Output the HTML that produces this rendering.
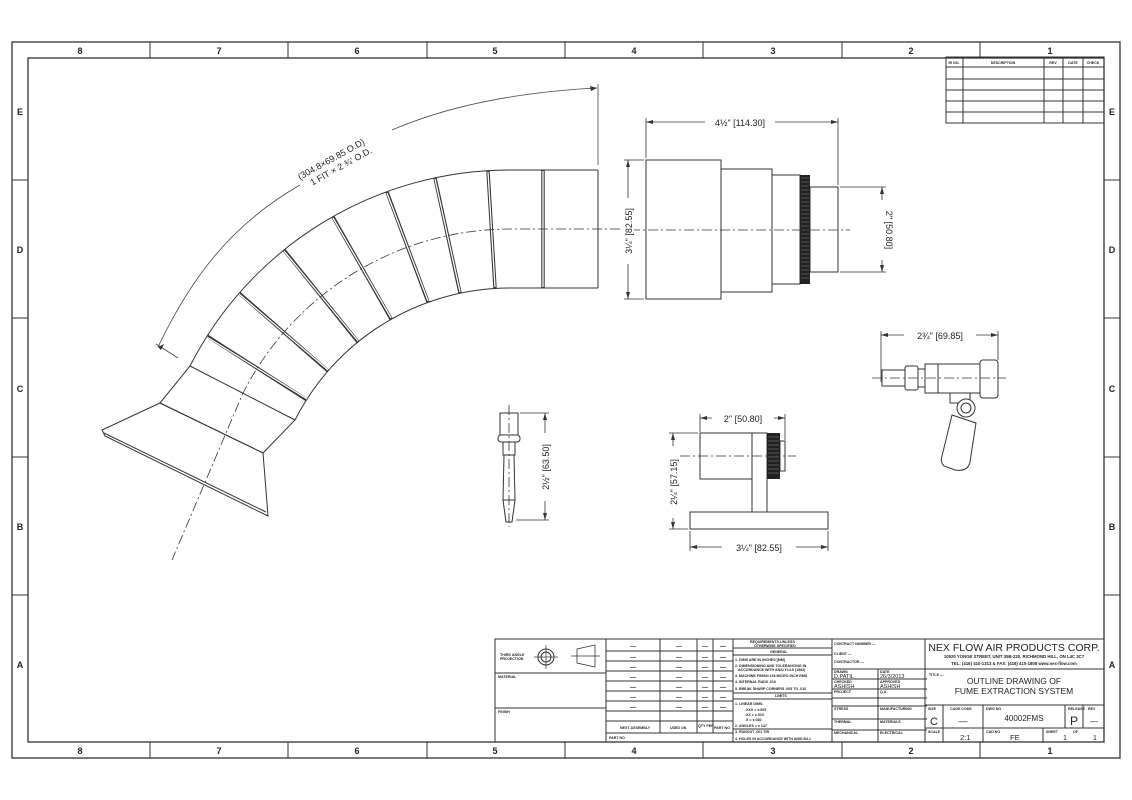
<!DOCTYPE html>
<html><head><meta charset="utf-8"><style>
html,body{margin:0;padding:0;background:#fff;}
svg{display:block;}
text{font-family:"Liberation Sans",sans-serif;fill:#222;}
.t{font-size:3.6px;font-weight:bold;}
.d{font-size:9px;}
</style></head><body>
<svg width="1132" height="800" viewBox="0 0 1132 800" xmlns="http://www.w3.org/2000/svg">
<rect width="1132" height="800" fill="#fff"/>
<g fill="none" stroke="#333" stroke-width="1.3">
<rect x="12" y="42" width="1108" height="716"/>
<rect x="28" y="58" width="1076" height="684"/>
</g>
<g stroke="#333" stroke-width="1">
<path d="M150 42V58M288 42V58M427 42V58M565 42V58M703 42V58M842 42V58M980 42V58"/>
<path d="M150 742V758M288 742V758M427 742V758M565 742V758M703 742V758M842 742V758M980 742V758"/>
<path d="M12 180H28M12 318H28M12 457H28M12 595H28M1104 180H1120M1104 318H1120M1104 457H1120M1104 595H1120"/>
</g>
<g font-size="9" font-weight="bold" text-anchor="middle">
<text x="80" y="54">8</text><text x="219" y="54">7</text><text x="357" y="54">6</text><text x="495" y="54">5</text><text x="634" y="54">4</text><text x="773" y="54">3</text><text x="911" y="54">2</text><text x="1050" y="54">1</text>
<text x="80" y="754">8</text><text x="219" y="754">7</text><text x="357" y="754">6</text><text x="495" y="754">5</text><text x="634" y="754">4</text><text x="773" y="754">3</text><text x="911" y="754">2</text><text x="1050" y="754">1</text>
<text x="20" y="115">E</text><text x="20" y="253">D</text><text x="20" y="392">C</text><text x="20" y="530">B</text><text x="20" y="668">A</text>
<text x="1112" y="115">E</text><text x="1112" y="253">D</text><text x="1112" y="392">C</text><text x="1112" y="530">B</text><text x="1112" y="668">A</text>
</g>

<!-- Hose -->
<g fill="none" stroke="#333" stroke-width="1">
<path d="M598 170 L510 170 A359 359 0 0 0 190 366 L160 403"/>
<path d="M598 288 L510 288 A241 241 0 0 0 295 420 L263 453"/>
<path d="M598 170V288"/>
<path d="M160 403 L102 430 L105 436 L268 516 L263 453 Z"/>
<path d="M104 433 L266 512"/>
<path d="M190 366 L295 420"/>
<path d="M160 403 L263 453"/>
</g>
<g stroke="#333" stroke-width="3.4" fill="none">
<path d="M543 170V288M488 171L495 288M435 178L460 293M387 192L428 302M333 217L391 319M284 250L358 342M239 293L328 371M207 336L307 400"/>
</g>
<g stroke="#fff" stroke-width="1.3" fill="none">
<path d="M543 171V287M488 172L495 287M435 179L460 292M387 193L428 301M333 218L391 318M284 251L358 341M239 294L328 370M207 337L307 399"/>
</g>
<path d="M620 229 L510 229 A300 300 0 0 0 243 393 L172 560" fill="none" stroke="#333" stroke-width="0.8" stroke-dasharray="10 3 2 3"/>
<!-- dimension arc -->
<g fill="none" stroke="#444" stroke-width="0.8">
<path d="M158 347 C190 280 230 225 300 185"/>
<path d="M392 130 C450 105 520 92 597 88"/>
<path d="M598 84V165M156 344L178 358"/>
</g>
<path d="M158 347l6-3-3 6z M597 88l-7-2 1 5z" fill="#333"/>
<g transform="translate(300,180) rotate(-29)" font-size="9" fill="#333">
<text x="0" y="0">(304.8×69.85 O.D)</text>
<text x="8" y="11">1 FIT × 2 ¾' O.D.</text>
</g>

<!-- Top right part -->
<g fill="none" stroke="#333" stroke-width="1">
<rect x="646" y="160" width="75" height="139"/>
<rect x="721" y="169" width="51" height="123"/>
<rect x="772" y="175" width="28" height="109"/>
<rect x="810" y="187" width="28" height="85"/>
<path d="M646 122H838M646 118V158M838 118V185M628 160V299M624 160H644M624 299H644M840 187H886M840 272H886M882 187V272" stroke-width="0.8"/>
</g>
<rect x="800" y="175" width="10" height="109" fill="#222"/>
<path d="M801 178H809M801 182H809M801 186H809M801 190H809M801 194H809M801 198H809M801 202H809M801 206H809M801 210H809M801 214H809M801 218H809M801 222H809M801 226H809M801 230H809M801 234H809M801 238H809M801 242H809M801 246H809M801 250H809M801 254H809M801 258H809M801 262H809M801 266H809M801 270H809M801 274H809M801 278H809" stroke="#888" stroke-width="0.6"/>
<path d="M630 230H850" stroke="#333" stroke-width="0.8" stroke-dasharray="10 3 2 3"/>
<rect x="705" y="116" width="70" height="12" fill="#fff"/>
<text x="740" y="126" class="d" text-anchor="middle">4½" [114.30]</text>
<rect x="622" y="198" width="12" height="66" fill="#fff"/>
<text class="d" text-anchor="middle" transform="translate(632,231) rotate(-90)">3¼" [82.55]</text>
<rect x="876" y="200" width="12" height="60" fill="#fff"/>
<text class="d" text-anchor="middle" transform="translate(886,230) rotate(90)">2" [50.80]</text>
<path d="M646 122l7-2v4zM838 122l-7-2v4zM628 160l-2 7h4zM628 299l-2-7h4zM882 187l-2 7h4zM882 272l-2-7h4z" fill="#333"/>

<!-- Valve -->
<g fill="#fff" stroke="#333" stroke-width="1">
<path d="M881 335H998M881 331V382M998 331V360" fill="none" stroke-width="0.8"/>
<rect x="882" y="370" width="23" height="16"/>
<rect x="905" y="366" width="13" height="24" rx="2"/>
<rect x="918" y="369" width="7" height="18"/>
<rect x="925" y="364" width="55" height="29"/>
<path d="M938 364V393" fill="none"/>
<rect x="980" y="360" width="18" height="38" rx="3"/>
<rect x="950" y="393" width="20" height="10"/>
<path d="M952 415 L976 423 L970 462 Q968 472 955 470 L944 466 Q940 462 942 456 Z"/>
<circle cx="966" cy="408" r="9"/>
<circle cx="966" cy="408" r="5"/>
</g>
<path d="M872 378H1006" stroke="#333" stroke-width="0.8" stroke-dasharray="10 3 2 3"/>
<rect x="904" y="329" width="72" height="12" fill="#fff"/>
<text x="940" y="339" class="d" text-anchor="middle">2¾" [69.85]</text>
<path d="M881 335l7-2v4zM998 335l-7-2v4z" fill="#333"/>

<!-- side view part -->
<g fill="#fff" stroke="#333" stroke-width="1">
<rect x="700" y="433" width="52" height="46"/>
<rect x="752" y="433" width="15" height="79"/>
<rect x="780" y="441" width="5" height="30"/>
<rect x="690" y="512" width="138" height="17"/>
</g>
<rect x="767" y="433" width="13" height="46" fill="#222"/>
<path d="M768 437H779M768 441H779M768 445H779M768 449H779M768 453H779M768 457H779M768 461H779M768 465H779M768 469H779M768 473H779" stroke="#888" stroke-width="0.6"/>
<path d="M680 456H796" stroke="#333" stroke-width="0.8" stroke-dasharray="10 3 2 3"/>
<g fill="none" stroke="#333" stroke-width="0.8">
<path d="M700 418H785M700 414V432M785 414V440M690 547H828M690 531V551M828 531V551M673 433V529M669 433H698M669 529H688"/>
</g>
<rect x="712" y="412" width="62" height="12" fill="#fff"/>
<text x="743" y="422" class="d" text-anchor="middle">2" [50.80]</text>
<rect x="722" y="541" width="74" height="12" fill="#fff"/>
<text x="759" y="551" class="d" text-anchor="middle">3¼" [82.55]</text>
<rect x="667" y="446" width="12" height="72" fill="#fff"/>
<text class="d" text-anchor="middle" transform="translate(677,482) rotate(-90)">2¼" [57.15]</text>
<path d="M700 418l7-2v4zM785 418l-7-2v4zM690 547l7-2v4zM828 547l-7-2v4zM673 433l-2 7h4zM673 529l-2-7h4z" fill="#333"/>

<!-- small nozzle -->
<g fill="#fff" stroke="#333" stroke-width="1">
<rect x="500" y="413" width="18" height="22"/>
<rect x="498" y="435" width="22" height="7" rx="3"/>
<rect x="503" y="442" width="12" height="13"/>
<path d="M504 455H514L515 500L512 522H506L503 500Z"/>
<path d="M503 500H515" fill="none"/>
</g>
<path d="M509 405V527" stroke="#333" stroke-width="0.8" stroke-dasharray="10 3 2 3"/>
<g fill="none" stroke="#333" stroke-width="0.8"><path d="M545 413V520M520 413H549M516 520H549"/></g>
<rect x="539" y="433" width="12" height="68" fill="#fff"/>
<text class="d" text-anchor="middle" transform="translate(549,467) rotate(-90)">2½" [63.50]</text>
<path d="M545 413l-2 7h4zM545 520l-2-7h4z" fill="#333"/>

<!-- revision table -->
<g fill="none" stroke="#333" stroke-width="1">
<rect x="946" y="57" width="158" height="66"/>
<path d="M946 67H1104M946 79H1104M946 90H1104M946 101H1104M946 112H1104M963 57V123M1044 57V123M1063 57V123M1083 57V123"/>
</g>
<g class="t" text-anchor="middle"><text x="954" y="64" class="t">IR NO.</text><text x="1003" y="64" class="t">DESCRIPTION</text><text x="1053" y="64" class="t">REV</text><text x="1073" y="64" class="t">DATE</text><text x="1093" y="64" class="t">CHECK</text></g>

<!-- title block -->
<g fill="none" stroke="#333" stroke-width="1">
<rect x="495" y="639" width="609" height="103"/>
<path d="M495 673H606M495 708H606M606 639V742M660 639V733M697 639V733M713 639V733M733 639V742"/>
<path d="M606 651H733M606 661H733M606 671H733M606 681H733M606 691H733M606 701H733M606 711H733M606 721H733M606 733H733"/>
<path d="M733 648H832M733 655H832M733 693H832M733 699H832M733 729H832M832 639V742"/>
<path d="M832 669H1104M878 669V742M832 679H927M832 689H927M832 698H927M832 706H927M832 719H927M832 730H927M925 639V742"/>
<path d="M925 705H1104M925 728H1104M943 705V742M983 705V742M1065 705V728M1083 705V728M1043 728V742"/>
<circle cx="546" cy="657" r="8"/><circle cx="546" cy="657" r="5"/><path d="M534 657H558M546 645V669" stroke-width="0.7"/>
<path d="M577 649L595 645V667L577 663Z M571 656H600" stroke-width="0.8"/>
</g>
<g text-anchor="middle" font-size="6" font-weight="bold">
<text x="633" y="648">—</text><text x="679" y="648">—</text><text x="705" y="648">—</text><text x="723" y="648">—</text>
<text x="633" y="659">—</text><text x="679" y="659">—</text><text x="705" y="659">—</text><text x="723" y="659">—</text>
<text x="633" y="669">—</text><text x="679" y="669">—</text><text x="705" y="669">—</text><text x="723" y="669">—</text>
<text x="633" y="679">—</text><text x="679" y="679">—</text><text x="705" y="679">—</text><text x="723" y="679">—</text>
<text x="633" y="689">—</text><text x="679" y="689">—</text><text x="705" y="689">—</text><text x="723" y="689">—</text>
<text x="633" y="699">—</text><text x="679" y="699">—</text><text x="705" y="699">—</text><text x="723" y="699">—</text>
<text x="633" y="709">—</text><text x="679" y="709">—</text><text x="705" y="709">—</text><text x="723" y="709">—</text>
</g>
<g class="t">
<text x="500" y="656" class="t">THIRD ANGLE</text><text x="500" y="660" class="t">PROJECTION</text>
<text x="498" y="678" class="t">MATERIAL</text><text x="498" y="713" class="t">FINISH</text>
<text x="620" y="729" class="t">NEXT ASSEMBLY</text><text x="670" y="729" class="t">USED ON</text><text x="698" y="727" class="t">QTY PER</text><text x="714" y="729" class="t">PART NO</text>
<text x="609" y="739" class="t">PART NO</text>
<text x="750" y="643" class="t">REQUIREMENTS-UNLESS</text><text x="754" y="647" class="t">OTHERWISE SPECIFIED</text>
<text x="770" y="653" class="t">GENERAL</text>
<text x="735" y="661" class="t">1. DIMS ARE IN INCHES [MM]</text>
<text x="735" y="667" class="t">2. DIMENSIONING AND TOLERANCING IN</text>
<text x="738" y="671" class="t">ACCORDANCE WITH ANSI Y14.5 (1982)</text>
<text x="735" y="677" class="t">3. MACHINE FINISH 125 MICRO INCH RMS</text>
<text x="735" y="683" class="t">4. INTERNAL RADII .010</text>
<text x="735" y="690" class="t">5. BREAK SHARP CORNERS .005 TO .010</text>
<text x="775" y="697" class="t">LIMITS</text>
<text x="735" y="705" class="t">1. LINEAR DIMS.</text>
<text x="745" y="711" class="t">.XXX = ±.005</text><text x="745" y="716" class="t">.XX = ±.010</text><text x="745" y="721" class="t">.X = ±.030</text>
<text x="735" y="727" class="t">2. ANGLES = ± 1/2°</text>
<text x="735" y="733" class="t">3. RUNOUT .001 TIR</text>
<text x="735" y="740" class="t">4. HOLES IN ACCORDANCE WITH ANSI B4.1</text>
<text x="834" y="645" class="t">CONTRACT NUMBER —</text><text x="834" y="655" class="t">CLIENT          —</text><text x="834" y="663" class="t">CONTRACTOR      —</text>
<text x="834" y="673" class="t">DRAWN</text><text x="880" y="673" class="t">DATE</text>
<text x="834" y="683" class="t">CHECKED</text><text x="880" y="683" class="t">APPROVED</text>
<text x="834" y="693" class="t">PROJECT</text><text x="880" y="693" class="t">Q.A.</text>
<text x="834" y="710" class="t">STRESS</text><text x="880" y="710" class="t">MANUFACTURING</text>
<text x="834" y="723" class="t">THERMAL</text><text x="880" y="723" class="t">MATERIALS</text>
<text x="834" y="734" class="t">MECHANICAL</text><text x="880" y="734" class="t">ELECTRICAL</text>
<text x="929" y="676" class="t">TITLE —</text>
<text x="928" y="710" class="t">SIZE</text><text x="950" y="710" class="t">CAGE CODE</text><text x="986" y="710" class="t">DWG NO</text><text x="1068" y="710" class="t">RELEASE</text><text x="1088" y="710" class="t">REV</text>
<text x="928" y="733" class="t">SCALE</text><text x="986" y="733" class="t">CAD NO</text><text x="1046" y="733" class="t">SHEET</text><text x="1073" y="733" class="t">OF</text>
</g>
<g font-size="5.5" fill="#222">
<text x="834" y="678">D.PATIL</text><text x="880" y="678">26/3/2013</text>
<text x="834" y="688">ASHISH</text><text x="880" y="688">ASHISH</text>
</g>
<g fill="#222">
<text x="1014" y="651" font-size="10.5" text-anchor="middle">NEX FLOW AIR PRODUCTS CORP.</text>
<text x="1014" y="658" font-size="4.3" font-weight="bold" text-anchor="middle">10520 YONGE STREET, UNIT 35B-220, RICHMOND HILL, ON L4C 3C7</text>
<text x="1014" y="665" font-size="4.3" font-weight="bold" text-anchor="middle">TEL: (416) 410-1313 &amp; FAX: (416) 410-1808 www.nex-flow.com</text>
<text x="1014" y="684" font-size="8.5" text-anchor="middle">OUTLINE DRAWING OF</text>
<text x="1014" y="694" font-size="8.5" text-anchor="middle">FUME EXTRACTION SYSTEM</text>
<text x="934" y="725" font-size="11" text-anchor="middle">C</text>
<text x="963" y="724" font-size="9" text-anchor="middle">—</text>
<text x="1024" y="721" font-size="8" text-anchor="middle">40002FMS</text>
<text x="1074" y="725" font-size="12" text-anchor="middle">P</text>
<text x="1094" y="724" font-size="8" text-anchor="middle">—</text>
<text x="960" y="740" font-size="7.5">2:1</text>
<text x="1010" y="740" font-size="7.5">FE</text>
<text x="1063" y="740" font-size="7">1</text>
<text x="1093" y="740" font-size="7">1</text>
</g>
</svg>
</body></html>
